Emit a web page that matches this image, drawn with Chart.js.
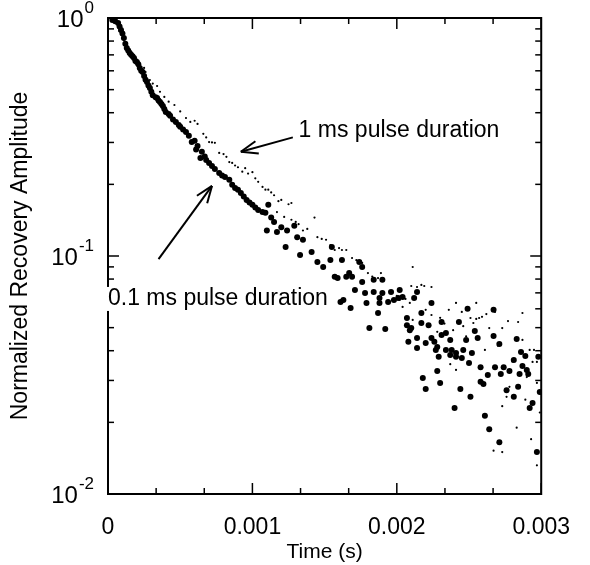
<!DOCTYPE html>
<html>
<head>
<meta charset="utf-8">
<script src="https://cdn.jsdelivr.net/npm/chart.js@4.4.0/dist/chart.umd.min.js"></script>
<style>
  html, body { margin: 0; padding: 0; background: #fff; }
  #wrap { width: 590px; height: 565px; }
</style>
</head>
<body>
<div id="wrap"><canvas id="chart" width="590" height="565"></canvas></div>
<script>
// 0.1 ms pulse (large dots): time in s, normalized amplitude
const shortTime = [0.00003, 0.00005, 0.00007, 0.00008, 0.00009, 0.0001, 0.00011, 0.00012, 0.00013, 0.00014,
  0.00015, 0.00016, 0.00017, 0.00018, 0.00019, 0.0002, 0.00021, 0.00022, 0.00023, 0.00024,
  0.00025, 0.00026, 0.00027, 0.00028, 0.00029, 0.0003, 0.00031, 0.00033, 0.00034, 0.00035,
  0.00036, 0.00037, 0.00038, 0.00039, 0.0004, 0.00042, 0.00043, 0.00045, 0.00047, 0.00049,
  0.0005, 0.00052, 0.00054, 0.00056, 0.00058, 0.0006, 0.00061, 0.00062, 0.00064, 0.00065,
  0.00067, 0.00068, 0.0007, 0.00072, 0.00074, 0.00077, 0.00079, 0.00081, 0.00084, 0.00086,
  0.00088, 0.0009, 0.00092, 0.00094, 0.00096, 0.00098, 0.001, 0.00102, 0.00104, 0.00107,
  0.00109, 0.0011, 0.00111, 0.00113, 0.00115, 0.00117, 0.0012, 0.00123, 0.00124, 0.00129,
  0.00131, 0.00133, 0.00135, 0.00141, 0.00145, 0.00149, 0.00154, 0.00155, 0.00157, 0.00159,
  0.00161, 0.00162, 0.00163, 0.00165, 0.00167, 0.00168, 0.00169, 0.00171, 0.00174, 0.00176,
  0.00176, 0.00178, 0.00179, 0.00181, 0.00184, 0.00184, 0.00187, 0.00188, 0.00188, 0.0019,
  0.0019, 0.00192, 0.00194, 0.00196, 0.00198, 0.00201, 0.00202, 0.00204, 0.00207, 0.00207,
  0.00208, 0.00209, 0.0021, 0.00212, 0.00214, 0.00214, 0.00214, 0.00217, 0.00217, 0.00218,
  0.0022, 0.0022, 0.00222, 0.00224, 0.00224, 0.00226, 0.00227, 0.00228, 0.00228, 0.00229,
  0.0023, 0.00231, 0.00231, 0.00234, 0.00234, 0.00237, 0.00237, 0.00238, 0.0024, 0.00241,
  0.00241, 0.00243, 0.00244, 0.00245, 0.00246, 0.00248, 0.00249, 0.0025, 0.00251, 0.00252,
  0.00254, 0.00256, 0.00258, 0.00258, 0.0026, 0.00261, 0.00263, 0.00264, 0.00267, 0.00267,
  0.00268, 0.00271, 0.00271, 0.00272, 0.00274, 0.00276, 0.00278, 0.00281, 0.00281, 0.00283,
  0.00284, 0.00285, 0.00286, 0.00287, 0.00289, 0.0029, 0.00291, 0.00292, 0.00294, 0.00297,
  0.00298, 0.00299];
const shortAmp = [0.981, 0.97, 0.953, 0.92, 0.89, 0.86, 0.824, 0.78, 0.748, 0.73,
  0.713, 0.7, 0.69, 0.679, 0.66, 0.653, 0.64, 0.617, 0.6, 0.593,
  0.57, 0.55, 0.538, 0.52, 0.508, 0.49, 0.474, 0.465, 0.461, 0.45,
  0.444, 0.435, 0.427, 0.415, 0.403, 0.395, 0.388, 0.375, 0.366, 0.355,
  0.349, 0.34, 0.332, 0.32, 0.301, 0.305, 0.28, 0.29, 0.258, 0.274,
  0.262, 0.253, 0.246, 0.239, 0.232, 0.223, 0.218, 0.215, 0.209, 0.199,
  0.193, 0.19, 0.184, 0.178, 0.172, 0.168, 0.164, 0.16, 0.156, 0.153,
  0.152, 0.128, 0.164, 0.145, 0.139, 0.126, 0.132, 0.109, 0.128, 0.134,
  0.12, 0.101, 0.117, 0.104, 0.0944, 0.0899, 0.0962, 0.109, 0.0818, 0.0808,
  0.0641, 0.0962, 0.0654, 0.0818, 0.0848, 0.0605, 0.0818, 0.072, 0.0944, 0.0899,
  0.0778, 0.0699, 0.0635, 0.0498, 0.0794, 0.0706, 0.0576, 0.0666, 0.0635, 0.0794,
  0.0699, 0.0493, 0.0641, 0.0706, 0.0654, 0.0666, 0.072, 0.0672, 0.0549, 0.0512,
  0.0436, 0.0488, 0.0498, 0.0666, 0.0706, 0.0452, 0.0411, 0.0523, 0.0576, 0.0307,
  0.0431, 0.0276, 0.0512, 0.0452, 0.0635, 0.0436, 0.0403, 0.0415, 0.0329, 0.0377,
  0.0293, 0.0528, 0.0466, 0.0475, 0.0403, 0.0444, 0.0384, 0.0403, 0.023, 0.0391,
  0.0377, 0.0528, 0.0276, 0.0373, 0.0403, 0.0444, 0.06, 0.0355, 0.0256, 0.0391,
  0.0484, 0.0452, 0.0341, 0.0296, 0.029, 0.0213, 0.0316, 0.0187, 0.0461, 0.0594,
  0.0341, 0.0427, 0.0165, 0.0319, 0.0341, 0.0273, 0.0329, 0.0366, 0.0256, 0.0448,
  0.0282, 0.0319, 0.0395, 0.0345, 0.038, 0.0332, 0.0319, 0.023, 0.0241, 0.015,
  0.0377, 0.0268];

// 1 ms pulse (small dots)
const longTime = [0.00003, 0.00005, 0.00008, 0.00011, 0.00013, 0.00016, 0.00019, 0.00021, 0.00025, 0.00026,
  0.00029, 0.00031, 0.00034, 0.00036, 0.00039, 0.00042, 0.00046, 0.0005, 0.00054, 0.00057,
  0.0006, 0.00062, 0.00066, 0.00068, 0.0007, 0.00072, 0.00074, 0.00077, 0.0008, 0.00082,
  0.00084, 0.00086, 0.00088, 0.0009, 0.00093, 0.00095, 0.00097, 0.001, 0.00102, 0.00104,
  0.00107, 0.00109, 0.00111, 0.00113, 0.00115, 0.00117, 0.00118, 0.0012, 0.00122, 0.00125,
  0.00127, 0.00127, 0.0013, 0.00132, 0.00135, 0.00138, 0.00143, 0.00145, 0.00148, 0.00151,
  0.00154, 0.00157, 0.0016, 0.00162, 0.00165, 0.00169, 0.00172, 0.00176, 0.0018, 0.00183,
  0.00187, 0.00189, 0.00195, 0.002, 0.00202, 0.00204, 0.00206, 0.00209, 0.0021, 0.00211,
  0.00211, 0.00214, 0.00217, 0.00219, 0.0022, 0.00224, 0.00224, 0.00228, 0.0023, 0.00233,
  0.00236, 0.00237, 0.00239, 0.00241, 0.00241, 0.00245, 0.00246, 0.00248, 0.00251, 0.00253,
  0.00255, 0.00255, 0.00257, 0.00259, 0.00261, 0.00262, 0.00264, 0.00267, 0.00268, 0.0027,
  0.00273, 0.00273, 0.00273, 0.00276, 0.00277, 0.00278, 0.0028, 0.00283, 0.00284, 0.00287,
  0.00287, 0.00289, 0.0029, 0.00292, 0.00293, 0.00294, 0.00295, 0.00297, 0.00297, 0.00297,
  0.00299];
const longAmp = [0.99, 0.962, 0.88, 0.808, 0.76, 0.72, 0.68, 0.653, 0.617, 0.593,
  0.549, 0.53, 0.518, 0.49, 0.466, 0.445, 0.431, 0.405, 0.38, 0.366,
  0.37, 0.359, 0.326, 0.315, 0.301, 0.3, 0.299, 0.271, 0.268, 0.261,
  0.248, 0.246, 0.24, 0.236, 0.226, 0.234, 0.222, 0.225, 0.212, 0.205,
  0.195, 0.19, 0.19, 0.185, 0.18, 0.153, 0.17, 0.172, 0.146, 0.165,
  0.167, 0.142, 0.139, 0.136, 0.128, 0.13, 0.145, 0.12, 0.118, 0.117,
  0.111, 0.106, 0.108, 0.106, 0.106, 0.0981, 0.096, 0.0935, 0.0848, 0.082,
  0.0808, 0.0848, 0.071, 0.068, 0.0654, 0.0611, 0.066, 0.0635, 0.0748, 0.0899,
  0.0539, 0.0741, 0.0756, 0.0748, 0.0594, 0.0741, 0.0565, 0.048, 0.055, 0.052,
  0.0594, 0.0351, 0.0488, 0.0635, 0.0332, 0.0582, 0.0507, 0.046, 0.0549, 0.0523,
  0.0635, 0.0544, 0.0549, 0.0555, 0.0403, 0.057, 0.0498, 0.0152, 0.0582, 0.042,
  0.0498, 0.0234, 0.015, 0.0256, 0.0533, 0.0282, 0.036, 0.019, 0.0528, 0.0576,
  0.0444, 0.0249, 0.031, 0.0403, 0.017, 0.0359, 0.0403, 0.0359, 0.0293, 0.0132,
  0.022];

const xTickLabels = ["0", "0.001", "0.002", "0.003"];
const yDecades = [1, 0.1, 0.01];
const yExponents = ["0", "-1", "-2"];

// annotation text and arrows, placed in data coordinates
const notes = [
  { text: "1 ms pulse duration", at: [0.00132, 0.335], tail: [0.00128, 0.315], tip: [0.00092, 0.274], box: false },
  { text: "0.1 ms pulse duration", at: [0.0, 0.066], tail: [0.00035, 0.097], tip: [0.00072, 0.197], box: true }
];

const FONT = "'Liberation Sans', Arial, Helvetica, sans-serif";

const toPoints = (ts, as) => ts.map((t, i) => ({ x: t, y: as[i] }));

function line(ctx, x1, y1, x2, y2) {
  ctx.beginPath();
  ctx.moveTo(x1, y1);
  ctx.lineTo(x2, y2);
  ctx.stroke();
}

const figurePlugin = {
  id: "figure",
  afterDatasetsDraw(chart) {
    const { ctx, chartArea: a, scales: { x, y } } = chart;
    ctx.save();
    ctx.strokeStyle = "#000";
    ctx.fillStyle = "#000";

    // ticks pointing inward on all four sides
    ctx.lineWidth = 1.5;
    for (let i = 0; i <= 9; i++) {
      const px = x.getPixelForValue(i * 0.001 / 3);
      const len = i % 3 === 0 ? 11 : 6;
      line(ctx, px, a.bottom, px, a.bottom - len);
      line(ctx, px, a.top, px, a.top + len);
    }
    [0.01, 0.1].forEach((d) => {
      for (let m = 1; m <= 9; m++) {
        const py = y.getPixelForValue(m * d);
        const len = m === 1 ? 11 : 6;
        line(ctx, a.left, py, a.left + len, py);
        line(ctx, a.right, py, a.right - len, py);
      }
    });

    // frame
    ctx.lineWidth = 2;
    ctx.strokeRect(a.left, a.top, a.right - a.left, a.bottom - a.top);

    // y tick labels 10^n
    ctx.textBaseline = "middle";
    yDecades.forEach((v, i) => {
      const py = y.getPixelForValue(v);
      ctx.font = "17px " + FONT;
      ctx.textAlign = "left";
      const ew = ctx.measureText(yExponents[i]).width;
      const right = 94;
      ctx.fillText(yExponents[i], right - ew, py - 10);
      ctx.font = "24px " + FONT;
      ctx.textAlign = "right";
      ctx.fillText("10", right - ew - 1, py + 2);
    });

    // annotations
    ctx.font = "23px " + FONT;
    ctx.textAlign = "left";
    notes.forEach((n) => {
      const tx = x.getPixelForValue(n.at[0]);
      const ty = y.getPixelForValue(n.at[1]);
      if (n.box) {
        const w = ctx.measureText(n.text).width;
        ctx.fillStyle = "#fff";
        ctx.fillRect(tx - 3, ty - 12, w + 6, 24);
        ctx.fillStyle = "#000";
      }
      ctx.fillText(n.text, tx, ty);

      const x1 = x.getPixelForValue(n.tail[0]), y1 = y.getPixelForValue(n.tail[1]);
      const x2 = x.getPixelForValue(n.tip[0]), y2 = y.getPixelForValue(n.tip[1]);
      ctx.lineWidth = 2;
      line(ctx, x1, y1, x2, y2);
      const ang = Math.atan2(y2 - y1, x2 - x1);
      const head = 18, spread = 0.36;
      line(ctx, x2, y2, x2 - head * Math.cos(ang - spread), y2 - head * Math.sin(ang - spread));
      line(ctx, x2, y2, x2 - head * Math.cos(ang + spread), y2 - head * Math.sin(ang + spread));
    });
    ctx.restore();
  }
};

new Chart(document.getElementById("chart"), {
  type: "scatter",
  data: {
    datasets: [
      {
        label: "0.1 ms pulse duration",
        data: toPoints(shortTime, shortAmp),
        pointRadius: 3,
        pointBorderWidth: 0,
        backgroundColor: "#000",
        borderColor: "#000",
      },
      {
        label: "1 ms pulse duration",
        data: toPoints(longTime, longAmp),
        pointRadius: 1.1,
        pointBorderWidth: 0,
        backgroundColor: "#000",
        borderColor: "#000",
      },
    ],
  },
  options: {
    responsive: false,
    animation: false,
    devicePixelRatio: 1,
    layout: { padding: { top: 18, right: 34, left: 0, bottom: 0 } },
    plugins: { legend: { display: false }, tooltip: { enabled: false } },
    scales: {
      x: {
        type: "linear",
        min: 0,
        max: 0.003,
        afterFit: (s) => { s.height = 71; },
        afterBuildTicks: (s) => { s.ticks = [0, 0.001, 0.002, 0.003].map((v) => ({ value: v })); },
        ticks: {
          padding: 20,
          maxRotation: 0,
          color: "#000",
          font: { family: FONT, size: 23 },
          callback: (v, i) => xTickLabels[i],
        },
        grid: { display: false, drawTicks: false },
        border: { display: false },
        title: {
          display: true,
          text: "Time (s)",
          color: "#000",
          font: { family: FONT, size: 21 },
          padding: { top: 0, bottom: 0 },
        },
      },
      y: {
        type: "logarithmic",
        min: 0.01,
        max: 1,
        afterFit: (s) => { s.width = 108; },
        ticks: { display: false },
        grid: { display: false, drawTicks: false },
        border: { display: false },
        title: {
          display: true,
          text: "Normalized Recovery Amplitude",
          color: "#000",
          font: { family: FONT, size: 23 },
          padding: { top: 7, bottom: 0 },
        },
      },
    },
  },
  plugins: [figurePlugin],
});
</script>
</body>
</html>
